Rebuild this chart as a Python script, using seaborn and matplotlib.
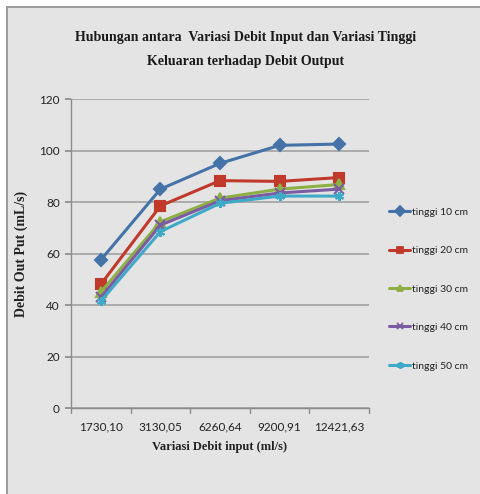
import matplotlib
matplotlib.use("Agg")
import matplotlib.pyplot as plt
import seaborn as sns
import pandas as pd

categories = ["1730,10", "3130,05", "6260,64", "9200,91", "12421,63"]
series_names = ["tinggi 10 cm", "tinggi 20 cm", "tinggi 30 cm", "tinggi 40 cm", "tinggi 50 cm"]
tinggi_10 = [57.5, 85.0, 95.0, 102.0, 102.5]
tinggi_20 = [48.0, 78.5, 88.3, 88.0, 89.5]
tinggi_30 = [45.0, 72.3, 81.5, 85.0, 86.8]
tinggi_40 = [43.0, 71.0, 80.5, 83.5, 85.0]
tinggi_50 = [41.5, 68.5, 79.5, 82.3, 82.3]
y_ticks = [0, 20, 40, 60, 80, 100, 120]

colors = ["#4572A7", "#C0392B", "#8DB044", "#7B5BA1", "#3FA9C8"]
markers = ["D", "s", "^", "x", (6, 2, 0)]

sns.set_theme(style="white")
bg = "#E4E4E4"
fig = plt.figure(figsize=(4.81, 4.94), dpi=100, facecolor="white")
fig.patches.append(plt.Rectangle((7/481, -0.1), 1.2, 1.1 - 7/494, transform=fig.transFigure,
                                 facecolor=bg, edgecolor="#9a9a9a", linewidth=1.4, zorder=-10))
ax = fig.add_axes([71/481, 1 - 408/494, 298/481, 309/494])
ax.set_facecolor(bg)

for name, vals, c, m in zip(series_names, [tinggi_10, tinggi_20, tinggi_30, tinggi_40, tinggi_50],
                            colors, markers):
    df = pd.DataFrame({"input": categories, "output": vals})
    sns.lineplot(data=df, x="input", y="output", color=c, marker=m, linewidth=2.2,
                 markersize=6.5, markeredgewidth=1.5, markeredgecolor=c, sort=False, ax=ax)

ax.set_xlim(-0.5, 4.5)
ax.set_ylim(0, 120)
ax.set_yticks(y_ticks)
ax.set_xticks(range(len(categories)))
ax.set_xticklabels(categories)
ax.grid(axis="y", color="#A6A6A6", linewidth=1.3)
ax.set_axisbelow(True)
for s in ["top", "right"]:
    ax.spines[s].set_visible(False)
for s in ["left", "bottom"]:
    ax.spines[s].set_color("#8c8c8c")
    ax.spines[s].set_linewidth(1.0)
ax.tick_params(axis="y", length=4, color="#8c8c8c", left=True, labelsize=8.5,
               labelcolor="#222222", pad=4)
ax.tick_params(axis="x", length=0, labelsize=8.5, labelcolor="#222222", pad=10)
for lab in ax.get_xticklabels() + ax.get_yticklabels():
    lab.set_family("Lato")
for b in [i - 0.5 for i in range(len(categories) + 1)]:
    ax.plot([b, b], [0, -1.8], color="#8c8c8c", linewidth=1.0, clip_on=False)

ax.set_xlabel("Variasi Debit input (ml/s)", family="Liberation Serif", fontweight="bold",
              fontsize=9, color="#222222", labelpad=6)
ax.set_ylabel("Debit Out Put (mL/s)", family="Liberation Serif", fontweight="bold",
              fontsize=10, color="#222222", labelpad=8)

fig.text(0.51, 1 - 38/494, "Hubungan antara  Variasi Debit Input dan Variasi Tinggi",
         ha="center", va="center", family="Liberation Serif", fontweight="bold",
         fontsize=10, color="#1a1a1a")
fig.text(0.51, 1 - 62/494, "Keluaran terhadap Debit Output",
         ha="center", va="center", family="Liberation Serif", fontweight="bold",
         fontsize=10, color="#1a1a1a")

handles = [plt.Line2D([], [], color=c, marker=m, linewidth=2.2, markersize=5,
                      markeredgecolor=c, markeredgewidth=1.3) for c, m in zip(colors, markers)]
leg = fig.legend(handles, series_names, loc="center left",
                 bbox_to_anchor=(380/481, 1 - 289/494), frameon=False,
                 prop={"family": "Lato", "size": 7.5}, labelspacing=2.8,
                 handlelength=2.0, handletextpad=0.2)
for t in leg.get_texts():
    t.set_color("#222222")

fig.savefig("out.png", dpi=100, facecolor="white")
